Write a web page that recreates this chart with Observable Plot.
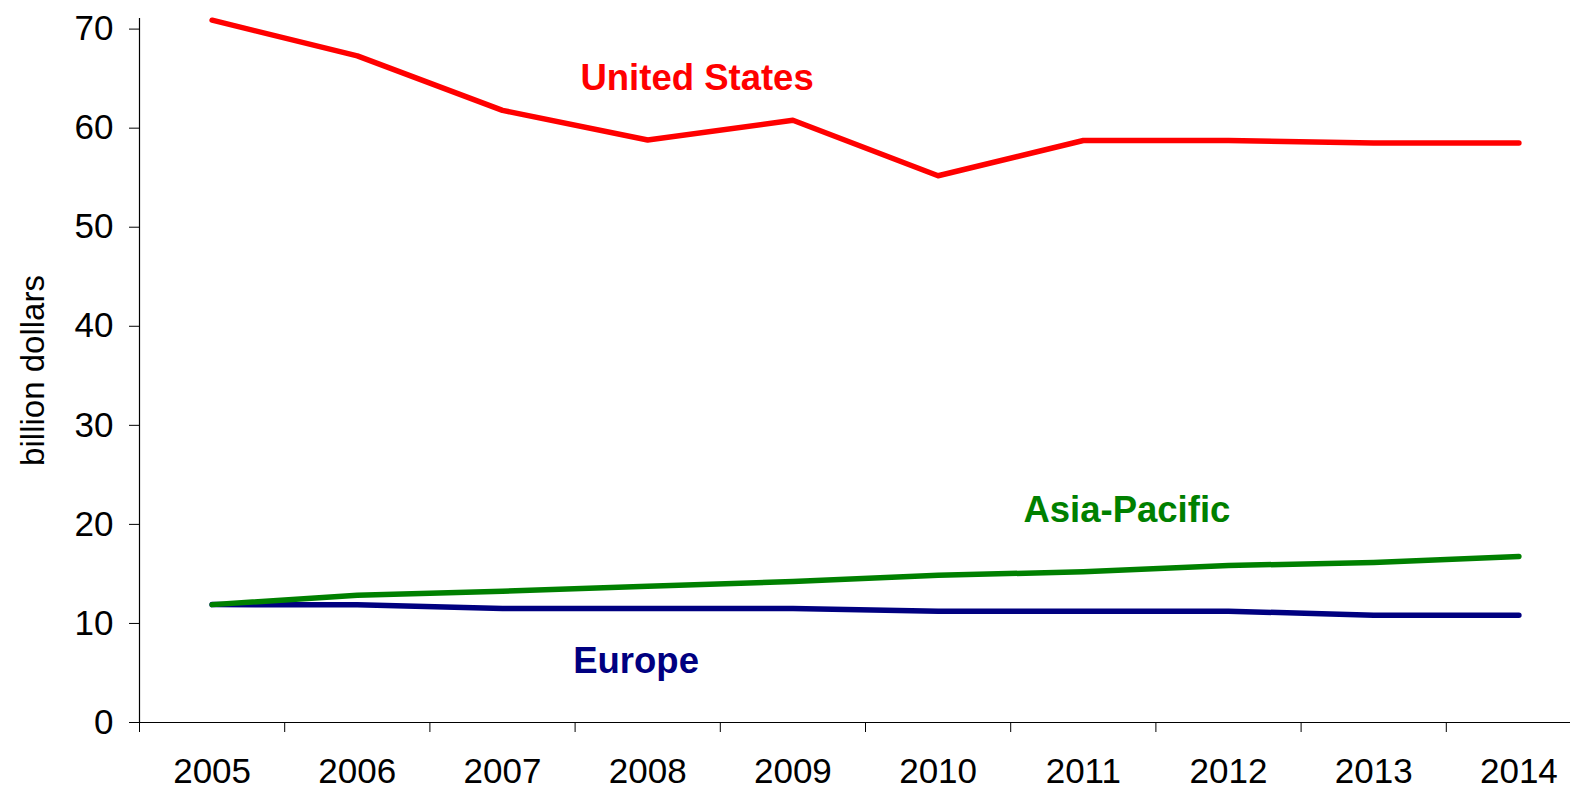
<!DOCTYPE html>
<html>
<head>
<meta charset="utf-8">
<script src="https://cdn.jsdelivr.net/npm/d3@7"></script>
<script src="https://cdn.jsdelivr.net/npm/@observablehq/plot@0.6"></script>
<style>
  html, body { margin: 0; padding: 0; background: #fff; overflow: hidden; }
  #chart svg { max-width: none; }
</style>
</head>
<body>
<div id="chart"></div>
<script>
const years = [2005, 2006, 2007, 2008, 2009, 2010, 2011, 2012, 2013, 2014];
const unitedStates = [70.9, 67.3, 61.8, 58.8, 60.8, 55.2, 58.75, 58.75, 58.5, 58.5];
const asiaPacific = [11.9, 12.85, 13.25, 13.76, 14.23, 14.87, 15.21, 15.85, 16.15, 16.76];
const europe = [11.9, 11.88, 11.5, 11.5, 11.5, 11.24, 11.24, 11.24, 10.83, 10.83];
const yTicks = [0, 10, 20, 30, 40, 50, 60, 70];
const boundaries = [2004.5, 2005.5, 2006.5, 2007.5, 2008.5, 2009.5, 2010.5, 2011.5, 2012.5, 2013.5, 2014.5];
const seriesNames = ["United States", "Asia-Pacific", "Europe"];
const seriesColors = ["#ff0000", "#008000", "#000080"];
const labelX = [2008.34, 2011.30, 2007.92];
const labelY = [63.9, 20.2, 4.95];
const yMax = 71.07;

const rows = (name, vals) => years.map((yr, i) => ({series: name, year: yr, value: vals[i]}));
const usData = rows(seriesNames[0], unitedStates);
const apData = rows(seriesNames[1], asiaPacific);
const euData = rows(seriesNames[2], europe);
const labels = seriesNames.map((n, i) => ({name: n, x: labelX[i], y: labelY[i], color: seriesColors[i]}));

const chart = Plot.plot({
  width: 1570,
  height: 789,
  marginLeft: 139,
  marginRight: 0,
  marginTop: 18,
  marginBottom: 67,
  style: {fontFamily: "'Liberation Sans', Arial, sans-serif", fontSize: "35px", background: "#fff", color: "#000", overflow: "hidden"},
  x: {type: "linear", domain: [boundaries[0], boundaries[boundaries.length - 1]], range: [139, 1591]},
  y: {domain: [0, yMax], range: [722, 18]},
  marks: [
    Plot.ruleY([0], {x1: boundaries[0], x2: boundaries[boundaries.length - 1], stroke: "#000", strokeWidth: 1.2}),
    Plot.ruleX([boundaries[0]], {y1: 0, y2: yMax, stroke: "#000", strokeWidth: 1.2}),
    Plot.axisX(boundaries, {tickSize: 10, tickFormat: () => "", stroke: "#000"}),
    Plot.axisX(years, {tickSize: 0, tickPadding: 36, fontSize: 35, tickFormat: d => String(d), label: null}),
    Plot.axisY(yTicks, {tickSize: 10, tickPadding: 16, fontSize: 35, label: null, stroke: "#000"}),
    Plot.text(["billion dollars"], {frameAnchor: "left", rotate: -90, dx: -106, fontSize: 33, textAnchor: "middle", lineAnchor: "middle"}),
    Plot.lineY(euData, {x: "year", y: "value", stroke: seriesColors[2], strokeWidth: 5.5, strokeLinecap: "round", strokeLinejoin: "round"}),
    Plot.lineY(apData, {x: "year", y: "value", stroke: seriesColors[1], strokeWidth: 5.5, strokeLinecap: "round", strokeLinejoin: "round"}),
    Plot.lineY(usData, {x: "year", y: "value", stroke: seriesColors[0], strokeWidth: 5.5, strokeLinecap: "round", strokeLinejoin: "round"}),
    Plot.text(labels, {x: "x", y: "y", text: "name", fill: "color", fontSize: 36.5, fontWeight: "bold", textAnchor: "middle", lineAnchor: "bottom"})
  ]
});
document.getElementById("chart").appendChild(chart);
</script>
</body>
</html>
